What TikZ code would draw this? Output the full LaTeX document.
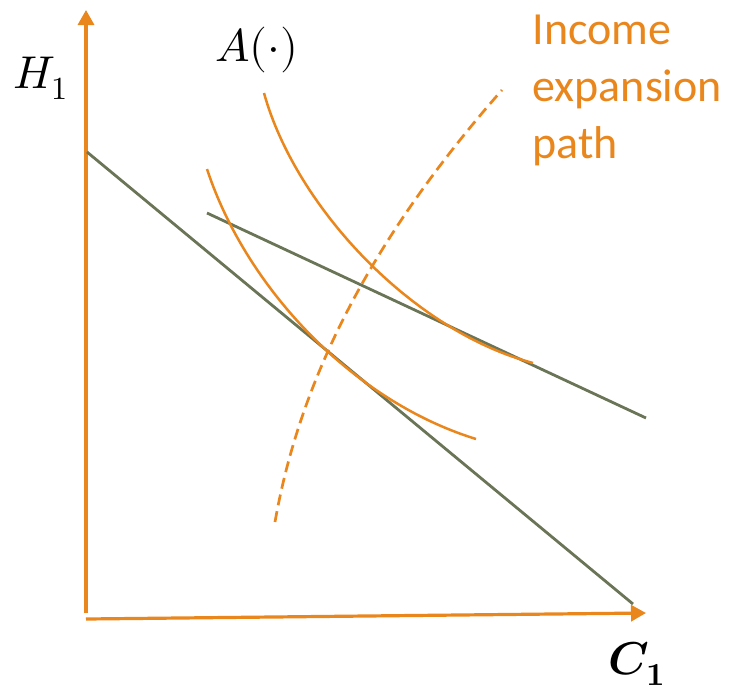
\documentclass[tikz,border=0pt]{standalone}
\usepackage{amsmath}
\usepackage{unicode-math}
\setmathfont{Latin Modern Math}
\newfontfamily\labelfont{Carlito}
\usetikzlibrary{arrows.meta}
\definecolor{orng}{HTML}{E9861C}
\definecolor{budget}{HTML}{6A7456}
\begin{document}
\begin{tikzpicture}[x=1pt, y=-1pt,
  axis/.style={orng, line width=3.2pt, -{Triangle[length=15pt, width=16pt]}},
  indiff/.style={orng, line width=2.5pt},
  bline/.style={budget, line width=2.8pt},
  lbl/.style={font=\fontsize{46}{50}\selectfont}]
\useasboundingbox (0,0) rectangle (741,691);
% axes
\coordinate (o1) at (86,613);
\coordinate (top) at (86,10);
\coordinate (o2) at (86,619);
\coordinate (right) at (646,613);
\draw[axis] (o1) -- (top);
\draw[axis] (o2) -- (right);
\node[lbl] (h1) at (41,78) {$H_1$};
\node[lbl] (c1) at (637,664) {$\symbfit{C}_{\symbf{1}}$};
% budget lines
\coordinate (b1s) at (87,152);
\coordinate (b1e) at (633,604);
\coordinate (b2s) at (207,213);
\coordinate (b2e) at (646,418);
\draw[bline] (b1s) -- (b1e);
\draw[bline] (b2s) -- (b2e);
% indifference curves
\draw[indiff] (207,169) .. controls (245,285) and (350,400) .. (476,439);
\draw[indiff] (264,93) .. controls (295,205) and (410,330) .. (533,363);
\node[lbl] (alab) at (257,50) {$A(\cdot)$};
% income expansion path
\draw[orng, line width=2.7pt, dash pattern=on 11pt off 6pt] (275,522) .. controls (300,380) and (370,240) .. (502,90);
\node[orng, font=\labelfont\fontsize{46}{57}\selectfont, align=left, anchor=base west] (path) at (529,158) {Income\\expansion\\path};
\end{tikzpicture}
\end{document}
